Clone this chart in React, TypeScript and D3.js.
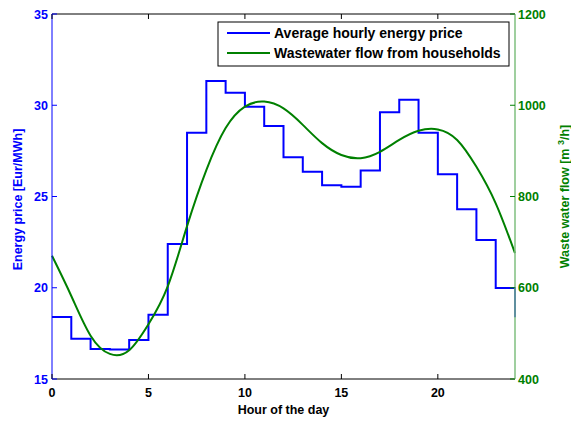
import React, { useRef, useEffect } from "react";
import * as d3 from "d3";

// hourly energy price, Eur/MWh (step at each hour, last value repeats hour 0)
const priceHours = d3.range(0, 25);
const priceValues = [
  18.4, 17.2, 16.65, 16.62, 17.14, 18.52, 22.4, 28.5, 31.33, 30.69, 29.92, 28.86,
  27.15, 26.36, 25.61, 25.54, 26.43, 29.61, 30.3, 28.5, 26.22, 24.3, 22.62, 19.99, 18.38,
];

// wastewater flow from households, m3/h
const flowHours = d3.range(0, 25);
const flowValues = [
  670, 582, 495, 455, 463, 520, 603, 735, 858, 950, 997, 1008, 993,
  957, 917, 891, 884, 898, 924, 944, 947, 924, 865, 785, 676,
];

const xTicks = [0, 5, 10, 15, 20];
const leftTicks = [15, 20, 25, 30, 35];
const rightTicks = [400, 600, 800, 1000, 1200];

const seriesNames = ["Average hourly energy price", "Wastewater flow from households"];

function App() {
  const svgRef = useRef<SVGSVGElement>(null);

  useEffect(() => {
    const width = 571;
    const height = 421;
    const margin = { top: 14, right: 56, bottom: 42, left: 52 };
    const blue = "#0000ff";
    const green = "#008000";
    const font = "'Liberation Sans', Arial, sans-serif";
    const fs = 12.5;

    const svg = d3.select(svgRef.current).attr("width", width).attr("height", height);
    svg.selectAll("*").remove();

    const x = d3.scaleLinear().domain([0, 24]).range([margin.left, width - margin.right]);
    const yL = d3.scaleLinear().domain([15, 35]).range([height - margin.bottom, margin.top]);
    const yR = d3.scaleLinear().domain([400, 1200]).range([height - margin.bottom, margin.top]);

    const x0 = x(0), x1 = x(24), yb = yL(15), yt = yL(35);

    svg.append("rect").attr("width", width).attr("height", height).attr("fill", "#fff");

    // Lines
    const stepLine = d3
      .line<number>()
      .x((d, i) => x(priceHours[i]))
      .y((d) => yL(d))
      .curve(d3.curveStepAfter);
    svg.append("path")
      .datum(priceValues)
      .attr("d", stepLine)
      .attr("fill", "none")
      .attr("stroke", blue)
      .attr("stroke-width", 2);

    const flowLine = d3
      .line<number>()
      .x((d, i) => x(flowHours[i]))
      .y((d) => yR(d))
      .curve(d3.curveNatural);
    svg.append("path")
      .datum(flowValues)
      .attr("d", flowLine)
      .attr("fill", "none")
      .attr("stroke", green)
      .attr("stroke-width", 2);

    // Axes frame
    svg.append("line").attr("x1", x0).attr("x2", x1).attr("y1", yb).attr("y2", yb).attr("stroke", "#000");
    svg.append("line").attr("x1", x0).attr("x2", x1).attr("y1", yt).attr("y2", yt).attr("stroke", "#000");
    svg.append("line").attr("x1", x0).attr("x2", x0).attr("y1", yt).attr("y2", yb).attr("stroke", blue);
    svg.append("line").attr("x1", x1).attr("x2", x1).attr("y1", yt).attr("y2", yb).attr("stroke", "#7fbf7f").attr("stroke-width", 1.5);

    // x ticks (bottom and top, inward)
    xTicks.forEach((t) => {
      svg.append("line").attr("x1", x(t)).attr("x2", x(t)).attr("y1", yb).attr("y2", yb - 5).attr("stroke", "#000");
      svg.append("line").attr("x1", x(t)).attr("x2", x(t)).attr("y1", yt).attr("y2", yt + 5).attr("stroke", "#000");
      svg.append("text")
        .attr("x", x(t))
        .attr("y", yb + 18)
        .attr("text-anchor", "middle")
        .attr("font-family", font)
        .attr("font-weight", "bold")
        .attr("font-size", fs)
        .attr("fill", "#000")
        .text(t);
    });

    // left ticks
    leftTicks.forEach((t) => {
      svg.append("line").attr("x1", x0).attr("x2", x0 + 5).attr("y1", yL(t)).attr("y2", yL(t)).attr("stroke", blue);
      svg.append("text")
        .attr("x", x0 - 4)
        .attr("y", yL(t))
        .attr("dy", "0.36em")
        .attr("text-anchor", "end")
        .attr("font-family", font)
        .attr("font-weight", "bold")
        .attr("font-size", fs)
        .attr("fill", blue)
        .text(t);
    });

    // right ticks
    rightTicks.forEach((t) => {
      svg.append("line").attr("x1", x1).attr("x2", x1 - 5).attr("y1", yR(t)).attr("y2", yR(t)).attr("stroke", green);
      svg.append("text")
        .attr("x", x1 + 3)
        .attr("y", yR(t))
        .attr("dy", "0.36em")
        .attr("text-anchor", "start")
        .attr("font-family", font)
        .attr("font-weight", "bold")
        .attr("font-size", fs)
        .attr("fill", green)
        .text(t);
    });

    // Axis labels
    svg.append("text")
      .attr("x", (x0 + x1) / 2)
      .attr("y", yb + 35)
      .attr("text-anchor", "middle")
      .attr("font-family", font)
      .attr("font-weight", "bold")
      .attr("font-size", fs)
      .attr("fill", "#000")
      .text("Hour of the day");

    svg.append("text")
      .attr("transform", `translate(22, ${(yt + yb) / 2 + 3}) rotate(-90)`)
      .attr("text-anchor", "middle")
      .attr("font-family", font)
      .attr("font-weight", "bold")
      .attr("font-size", fs)
      .attr("fill", blue)
      .text("Energy price [Eur/MWh]");

    const rLabel = svg.append("text")
      .attr("transform", `translate(569, ${(yt + yb) / 2}) rotate(-90)`)
      .attr("text-anchor", "middle")
      .attr("font-family", font)
      .attr("font-weight", "bold")
      .attr("font-size", fs)
      .attr("fill", green);
    rLabel.append("tspan").text("Waste water flow [m ");
    rLabel.append("tspan").attr("dy", -5).attr("font-size", 9).text("3");
    rLabel.append("tspan").attr("dy", 5).text("/h]");

    // Legend
    const lx = 218, ly = 22, lw = 291, lh = 44;
    const legend = svg.append("g");
    legend.append("rect")
      .attr("x", lx)
      .attr("y", ly)
      .attr("width", lw)
      .attr("height", lh)
      .attr("fill", "#fff")
      .attr("stroke", "#000");
    [blue, green].forEach((c, i) => {
      const yy = ly + 11 + i * 20;
      legend.append("line")
        .attr("x1", lx + 9)
        .attr("x2", lx + 52)
        .attr("y1", yy)
        .attr("y2", yy)
        .attr("stroke", c)
        .attr("stroke-width", 2);
      legend.append("text")
        .attr("x", lx + 56)
        .attr("y", yy)
        .attr("dy", "0.36em")
        .attr("font-family", font)
        .attr("font-weight", "bold")
        .attr("font-size", 14)
        .attr("fill", "#000")
        .text(seriesNames[i]);
    });
  }, []);

  return <svg ref={svgRef} style={{ position: "absolute", left: 0, top: 0 }}></svg>;
}

export default App;
